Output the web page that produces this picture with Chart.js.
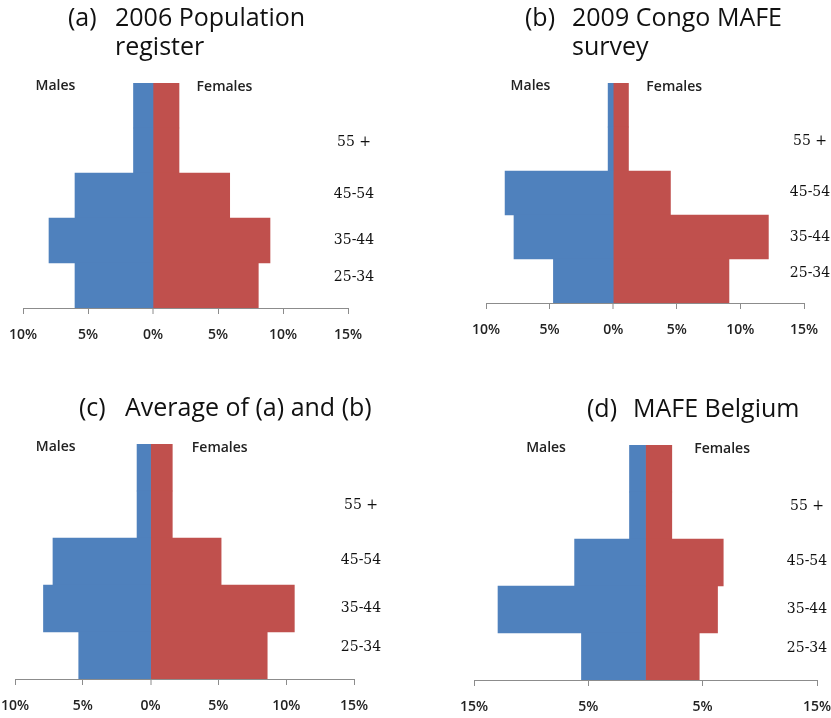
<!DOCTYPE html>
<html>
<head>
<meta charset="utf-8">
<script src="https://cdn.jsdelivr.net/npm/chart.js@4.4.1/dist/chart.umd.min.js"></script>
<style>
  html, body { margin: 0; padding: 0; background: #fff; }
  #wrap { position: relative; width: 831px; height: 718px; overflow: hidden; }
  .panel { position: absolute; }
</style>
</head>
<body>
<div id="wrap">
  <div class="panel" style="left:0;top:0"><canvas id="chart_a" width="415" height="359"></canvas></div>
  <div class="panel" style="left:415px;top:0"><canvas id="chart_b" width="416" height="359"></canvas></div>
  <div class="panel" style="left:0;top:359px"><canvas id="chart_c" width="415" height="359"></canvas></div>
  <div class="panel" style="left:415px;top:359px"><canvas id="chart_d" width="416" height="359"></canvas></div>
</div>
<script>
// age groups, youngest first; 55 + covers twice the span of the others
var ageGroups = ['25-34', '35-44', '45-54', '55 +'];
var ageSpans = [10, 10, 10, 20];

// share of population, %
var malesA = [6.0, 8.0, 6.0, 1.5];
var femalesA = [8.1, 9.0, 5.9, 2.0];
var malesB = [4.7, 7.8, 8.5, 0.4];
var femalesB = [9.1, 12.2, 4.5, 1.2];
var malesC = [5.3, 7.9, 7.2, 1.0];
var femalesC = [8.6, 10.6, 5.2, 1.6];
var malesD = [5.6, 12.9, 6.2, 1.4];
var femalesD = [4.7, 6.3, 6.8, 2.3];

var ticksABC = [-10, -5, 0, 5, 10, 15];
var ticksD = [-15, -5, 5, 15];

var titles = [
    ['(a)', '2006 Population', 'register'],
    ['(b)', '2009 Congo MAFE', 'survey'],
    ['(c)', 'Average of (a) and (b)'],
    ['(d)', 'MAFE Belgium']
];

var BLUE = '#4F81BD', RED = '#C0504D', AXIS = '#8c8c8c';

// one row per 10 years of age, oldest on top
function buildRows(values) {
    var rows = [];
    for (var i = ageGroups.length - 1; i >= 0; i--) {
        for (var k = 0; k < ageSpans[i] / 10; k++) rows.push(values[i]);
    }
    return rows;
}

function groupRows() {
    var out = [], r = 0;
    for (var i = ageGroups.length - 1; i >= 0; i--) {
        var n = ageSpans[i] / 10;
        out[i] = [r, r + n - 1];
        r += n;
    }
    return out;
}

var labelNudge = [-8, 0, -1, 14];

var panelText = {
    id: 'panelText',
    afterDraw: function (chart) {
        var p = chart.options.plugins.panelText;
        var ctx = chart.ctx, xs = chart.scales.x, ys = chart.scales.y, area = chart.chartArea;
        ctx.save();

        // title
        ctx.fillStyle = '#111';
        ctx.textAlign = 'left';
        ctx.textBaseline = 'alphabetic';
        ctx.font = '25px "Open Sans"';
        ctx.fillText(p.title[0], p.titleX[0], p.titleY[0]);
        for (var i = 1; i < p.title.length; i++) {
            ctx.fillText(p.title[i], p.titleX[1], p.titleY[i - 1]);
        }

        // Males / Females
        ctx.fillStyle = '#222';
        ctx.textAlign = 'center';
        ctx.textBaseline = 'middle';
        ctx.font = '600 14px "Open Sans"';
        ctx.fillText('Males', xs.getPixelForValue(p.malesAt), area.top + 3);
        ctx.fillText('Females', xs.getPixelForValue(p.femalesAt), area.top + 4);

        // age group labels
        ctx.fillStyle = '#111';
        ctx.font = '14px "DejaVu Serif"';
        var g = groupRows();
        ageGroups.forEach(function (lab, i) {
            var yy = (ys.getPixelForValue(g[i][0]) + ys.getPixelForValue(g[i][1])) / 2;
            ctx.fillText(lab, area.right + p.ageDx, yy + labelNudge[i]);
        });
        ctx.restore();
    }
};

function makePyramid(id, males, females, tickVals, min, max, lay, txt) {
    return new Chart(document.getElementById(id), {
        type: 'bar',
        data: {
            labels: buildRows(ageGroups),
            datasets: [{
                label: 'Males',
                data: buildRows(males).map(function (v) { return -v; }),
                backgroundColor: BLUE
            }, {
                label: 'Females',
                data: buildRows(females),
                backgroundColor: RED
            }]
        },
        options: {
            indexAxis: 'y',
            responsive: false,
            animation: false,
            layout: { padding: { left: lay.left, right: lay.right, top: lay.top, bottom: 0 } },
            datasets: { bar: { barPercentage: 1, categoryPercentage: 1, borderWidth: 0 } },
            scales: {
                x: {
                    type: 'linear',
                    stacked: true,
                    min: min,
                    max: max,
                    afterBuildTicks: function (scale) {
                        scale.ticks = tickVals.map(function (v) { return { value: v }; });
                    },
                    afterFit: function (scale) {
                        scale.height = lay.axisH;
                        scale.paddingLeft = 0;
                        scale.paddingRight = 0;
                    },
                    grid: {
                        drawOnChartArea: false,
                        drawTicks: true,
                        tickLength: 6,
                        color: AXIS,
                        tickColor: AXIS,
                        tickWidth: 1,
                        // no gap between the male and female bars at 0
                        lineWidth: function (c) { return c.tick && c.tick.value === 0 ? 0 : 1; }
                    },
                    border: { display: true, color: AXIS, width: 1 },
                    ticks: {
                        padding: 13,
                        color: '#222',
                        font: { family: 'Open Sans', size: 14, weight: '600' },
                        callback: function (v) { return Math.abs(v) + '%'; }
                    }
                },
                y: { stacked: true, display: false }
            },
            plugins: {
                legend: { display: false },
                tooltip: { enabled: false },
                panelText: txt
            }
        },
        plugins: [panelText]
    });
}

makePyramid('chart_a', malesA, femalesA, ticksABC, -10, 15,
    { left: 23, right: 67, top: 83, axisH: 51 },
    { title: titles[0], titleX: [68, 115], titleY: [26, 55], malesAt: -7.5, femalesAt: 5.5, ageDx: 6 });

makePyramid('chart_b', malesB, femalesB, ticksABC, -10, 15,
    { left: 71, right: 27, top: 83, axisH: 56 },
    { title: titles[1], titleX: [110, 157], titleY: [26, 55], malesAt: -6.5, femalesAt: 4.8, ageDx: 6 });

makePyramid('chart_c', malesC, femalesC, ticksABC, -10, 15,
    { left: 15, right: 61, top: 85, axisH: 39 },
    { title: titles[2], titleX: [79, 125], titleY: [57], malesAt: -7, femalesAt: 5.1, ageDx: 7 });

makePyramid('chart_d', malesD, femalesD, ticksD, -15, 15,
    { left: 59, right: 14, top: 86, axisH: 38 },
    { title: titles[3], titleX: [172, 218], titleY: [58], malesAt: -8.7, femalesAt: 6.7, ageDx: -10 });
</script>
</body>
</html>
